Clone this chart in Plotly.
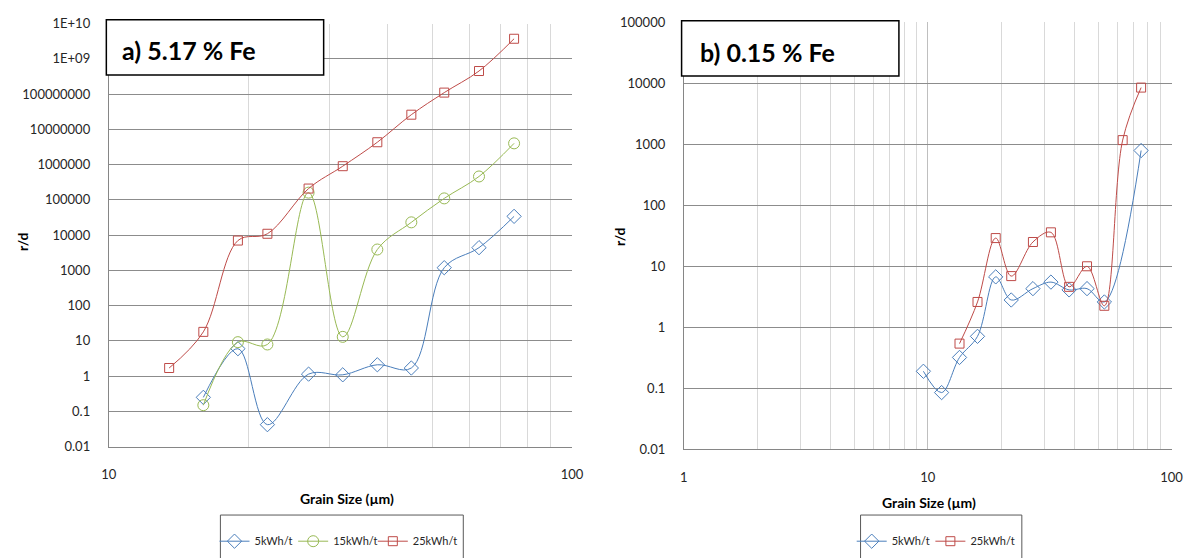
import plotly.graph_objects as go

# ---- data: panel a) 5.17 % Fe ----
size_a = [13.5, 16, 19, 22, 27, 32, 38, 45, 53, 63, 75]
rd_a_5 = [None, 0.25, 6.0, 0.042, 1.14, 1.09, 2.1, 1.7, 1190, 4400, 34000]
rd_a_15 = [None, 0.15, 9.2, 7.9, 160000, 13, 3900, 23000, 110000, 460000, 4.0e6]
rd_a_25 = [1.7, 18, 7000, 10900, 209000, 900000, 4.3e6, 2.6e7, 1.1e8, 4.5e8, 3.7e9]

# ---- data: panel b) 0.15 % Fe ----
size_b_5 = [9.6, 11.4, 13.5, 16, 19, 22, 27, 32, 38, 45, 53, 75]
rd_b_5 = [0.19, 0.085, 0.32, 0.71, 6.7, 2.8, 4.3, 5.5, 4.1, 4.3, 2.6, 790]
size_b_25 = [13.5, 16, 19, 22, 27, 32, 38, 45, 53, 63, 75]
rd_b_25 = [0.54, 2.6, 29, 6.9, 25, 36, 4.6, 10, 2.25, 1170, 8500]

# axis tick labels
yvals_a = [10.0 ** k for k in range(-2, 11)]
ytext_a = ["0.01", "0.1", "1", "10", "100", "1000", "10000", "100000",
           "1000000", "10000000", "100000000", "1E+09", "1E+10"]
yvals_b = [10.0 ** k for k in range(-2, 6)]
ytext_b = ["0.01", "0.1", "1", "10", "100", "1000", "10000", "100000"]

BLUE, GREEN, RED = "#4A7EBB", "#98B954", "#BE4B48"
FONT = "Lato, Carlito, Calibri, sans-serif"
W, H = 1201, 558


def px(x):
    return x / W


def py(y):
    return 1 - y / H


def series(x, y, name, color, symbol, size, xa, ya, legend):
    return go.Scatter(
        x=x, y=y, name=name, mode="lines+markers",
        line=dict(color=color, width=1, shape="spline", smoothing=1),
        marker=dict(symbol=symbol, size=size, color=color,
                    line=dict(color=color, width=1)),
        xaxis=xa, yaxis=ya, legend=legend, connectgaps=True,
    )


fig = go.Figure()
fig.add_trace(series(size_a, rd_a_5, "5kWh/t", BLUE, "diamond-open", 11, "x", "y", "legend"))
fig.add_trace(series(size_a, rd_a_15, "15kWh/t", GREEN, "circle-open", 11, "x", "y", "legend2"))
fig.add_trace(series(size_a, rd_a_25, "25kWh/t", RED, "square-open", 9, "x", "y", "legend3"))
fig.add_trace(series(size_b_5, rd_b_5, "5kWh/t", BLUE, "diamond-open", 11, "x2", "y2", "legend4"))
fig.add_trace(series(size_b_25, rd_b_25, "25kWh/t", RED, "square-open", 9, "x2", "y2", "legend5"))

minor_a = [m * 10 for m in range(2, 10)]
minor_b = [m * 10 ** d for d in range(0, 2) for m in range(2, 10)]

tickfont = dict(family=FONT, size=13, color="#262626")


def xaxis(domain, rng, tickvals, minor_vals, anchor):
    return dict(
        type="log", domain=domain, range=rng, anchor=anchor,
        tickmode="array", tickvals=tickvals, ticktext=[str(v) for v in tickvals],
        ticks="", ticklabelstandoff=16, tickfont=tickfont,
        showgrid=True, gridcolor="#bfbfbf", gridwidth=1,
        minor=dict(tickmode="array", tickvals=minor_vals, showgrid=True,
                   gridcolor="#d9d9d9", gridwidth=1, ticks=""),
        showline=True, linecolor="#868686", linewidth=1, zeroline=False,
    )


def yaxis(domain, rng, tickvals, ticktext, anchor):
    return dict(
        type="log", domain=domain, range=rng, anchor=anchor,
        tickmode="array", tickvals=tickvals, ticktext=ticktext,
        ticks="", ticklabelstandoff=15, tickfont=tickfont,
        showgrid=True, gridcolor="#8c8c8c", gridwidth=1,
        showline=True, linecolor="#868686", linewidth=1, zeroline=False,
    )


def legend_at(marker_x):
    # one legend entry per box, placed so its symbol sits at marker_x
    return dict(
        x=px(marker_x - 20), y=py(534), xanchor="left", yanchor="top",
        orientation="h", font=dict(family=FONT, size=11, color="#262626"),
        bgcolor="rgba(0,0,0,0)", borderwidth=0, itemwidth=30,
    )


fig.update_layout(
    width=W, height=H,
    margin=dict(l=0, r=0, t=0, b=0),
    paper_bgcolor="white", plot_bgcolor="white",
    xaxis=xaxis([px(102.5), px(573.5)], [1, 2], [10, 100], minor_a, "y"),
    yaxis=yaxis([py(451.6), py(16)], [-2, 10], yvals_a, ytext_a, "x"),
    xaxis2=xaxis([px(687.3), px(1183.3)], [0, 2], [1, 10, 100], minor_b, "y2"),
    yaxis2=yaxis([py(454.3), py(14.7)], [-2, 5], yvals_b, ytext_b, "x2"),
    legend=legend_at(230),
    legend2=legend_at(310),
    legend3=legend_at(391),
    legend4=legend_at(878),
    legend5=legend_at(958),
    showlegend=True,
)

# panel captions in framed boxes, legend frames
shapes = [
    dict(type="rect", xref="paper", yref="paper", x0=px(100), x1=px(321),
         y0=py(69), y1=py(12), line=dict(color="black", width=1.5),
         fillcolor="white", layer="above"),
    dict(type="rect", xref="paper", yref="paper", x0=px(685), x1=px(906),
         y0=py(70), y1=py(13), line=dict(color="black", width=1.5),
         fillcolor="white", layer="above"),
    dict(type="rect", xref="paper", yref="paper", x0=px(216), x1=px(463),
         y0=py(575), y1=py(522), line=dict(color="#595959", width=1)),
    dict(type="rect", xref="paper", yref="paper", x0=px(867), x1=px(1031),
         y0=py(575), y1=py(522), line=dict(color="#595959", width=1)),
]

bold = dict(family=FONT, color="black")
annotations = [
    dict(text="<b>a) 5.17 % Fe</b>", xref="paper", yref="paper",
         x=px(114), y=py(43), xanchor="left", yanchor="middle",
         showarrow=False, font=dict(size=25, **bold)),
    dict(text="<b>b) 0.15 % Fe</b>", xref="paper", yref="paper",
         x=px(702), y=py(45), xanchor="left", yanchor="middle",
         showarrow=False, font=dict(size=25, **bold)),
    dict(text="<b>r/d</b>", xref="paper", yref="paper", x=px(14), y=py(240),
         xanchor="center", yanchor="middle", textangle=-90, showarrow=False,
         font=dict(size=14, **bold)),
    dict(text="<b>r/d</b>", xref="paper", yref="paper", x=px(622), y=py(235),
         xanchor="center", yanchor="middle", textangle=-90, showarrow=False,
         font=dict(size=14, **bold)),
    dict(text="<b>Grain Size (µm)</b>", xref="paper", yref="paper", x=px(345),
         y=py(505), xanchor="center", yanchor="middle", showarrow=False,
         font=dict(size=14, **bold)),
    dict(text="<b>Grain Size (µm)</b>", xref="paper", yref="paper", x=px(937),
         y=py(509), xanchor="center", yanchor="middle", showarrow=False,
         font=dict(size=14, **bold)),
]

fig.update_layout(shapes=shapes, annotations=annotations)
fig.write_html("out.html")
